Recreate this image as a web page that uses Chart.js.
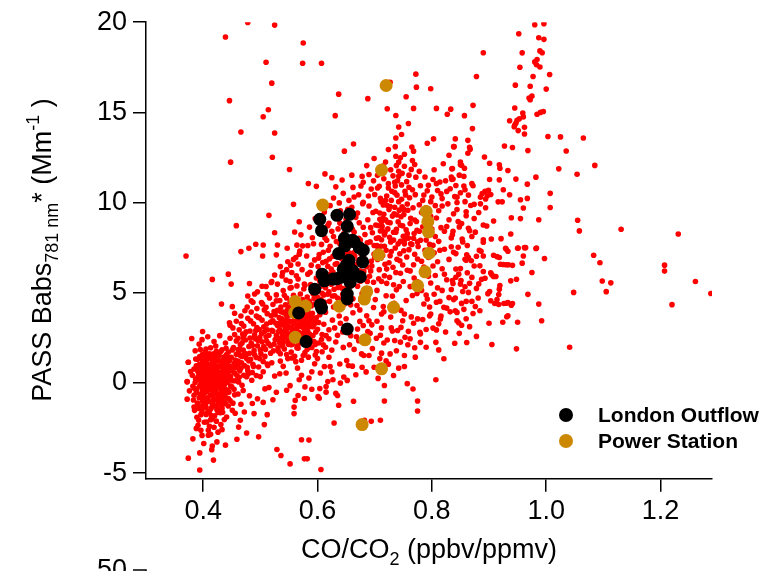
<!DOCTYPE html>
<html>
<head>
<meta charset="utf-8">
<script src="https://cdn.jsdelivr.net/npm/chart.js@4.4.1/dist/chart.umd.min.js"></script>
<style>
  body { margin: 0; background: #fff; }
  canvas { display: block; }
</style>
</head>
<body>
<canvas id="scatter" width="769" height="571"></canvas>
<script>
// --- values ---
const xTickValues = [0.4, 0.6, 0.8, 1.0, 1.2];
const yTickValues = [-5, 0, 5, 10, 15, 20];
const seriesNames = ["London Outflow", "Power Station"];

const londonOutflow = [
  [0.604,9.07],[0.634,9.29],[0.656,9.35],[0.607,8.44],[0.652,8.68],[0.647,8.02],[0.661,7.91],[0.664,7.83],
  [0.648,7.6],[0.673,7.5],[0.680,7.36],[0.637,7.17],[0.655,6.8],[0.679,6.71],[0.650,6.5],[0.645,6.3],
  [0.658,6.3],[0.662,6.2],[0.654,6.1],[0.661,6.03],[0.675,5.88],[0.608,6.03],[0.612,5.66],[0.627,5.76],
  [0.633,5.77],[0.640,5.85],[0.657,5.57],[0.595,5.2],[0.652,4.93],[0.652,4.66],[0.605,4.34],[0.607,4.15],
  [0.567,3.88],[0.652,2.99],[0.580,2.29]
];

const powerStation = [
  [0.720,16.49],[0.712,11.8],[0.609,9.86],[0.790,9.51],[0.793,8.94],[0.794,8.37],[0.707,7.1],[0.795,7.19],
  [0.788,6.16],[0.775,5.39],[0.686,5.06],[0.682,4.65],[0.733,4.19],[0.638,4.25],[0.561,4.52],[0.579,4.26],
  [0.560,3.9],[0.561,2.53],[0.683,2.39],[0.712,0.78],[0.678,-2.31]
];

// all measurements (red), split by area of the cloud
const allCore = [
  [0.381,0.42],[0.385,-0.31],[0.388,0.95],[0.390,-1.12],[0.392,0.18],[0.394,1.46],[0.395,-0.62],[0.397,0.71],[0.398,-1.58],[0.399,0.05],
  [0.400,1.12],[0.401,-0.88],[0.402,0.38],[0.403,-0.21],[0.404,1.73],[0.405,-1.35],[0.406,0.64],[0.407,-0.47],[0.408,0.92],[0.409,-0.05],
  [0.410,1.38],[0.410,-1.02],[0.411,0.27],[0.412,-0.71],[0.413,0.83],[0.414,-1.81],[0.414,0.12],[0.415,1.05],[0.416,-0.39],[0.417,0.55],
  [0.418,-1.24],[0.418,1.62],[0.419,-0.14],[0.420,0.76],[0.421,-0.93],[0.421,0.33],[0.422,2.05],[0.423,-0.56],[0.424,1.21],[0.424,-1.49],
  [0.425,0.09],[0.426,0.88],[0.427,-0.28],[0.428,1.51],[0.428,-0.81],[0.429,0.44],[0.430,-1.66],[0.431,1.02],[0.432,-0.12],[0.432,0.61],
  [0.433,1.84],[0.434,-0.67],[0.435,0.24],[0.436,1.33],[0.436,-1.07],[0.437,0.71],[0.438,-0.36],[0.439,2.21],[0.440,0.48],[0.441,-0.85],
  [0.442,1.15],[0.443,0.02],[0.444,1.71],[0.445,-0.51],[0.446,0.93],[0.447,2.48],[0.448,0.36],[0.449,1.42],[0.450,-0.22],[0.452,0.81],
  [0.453,1.96],[0.455,0.55],[0.456,1.27],[0.458,2.33],[0.460,0.98],[0.462,1.68],[0.463,0.31],[0.465,2.12],[0.467,1.12],[0.469,2.71],
  [0.372,0.06],[0.374,1.15],[0.376,-0.44],[0.378,0.63],[0.383,-0.95],[0.386,1.78],[0.389,-1.9],[0.391,-2.35],[0.393,2.15],[0.396,-2.62],
  [0.398,2.4],[0.402,-2.18],[0.405,-1.75],[0.408,2.56],[0.411,-2.41],[0.413,1.95],[0.416,-1.98],[0.419,2.3],[0.423,-2.12],[0.426,-1.63],
  [0.429,2.62],[0.433,-1.41],[0.437,-2.03],[0.440,1.92],[0.444,-1.28],[0.447,-0.98],[0.451,-1.52],[0.454,-0.35],[0.457,0.12],[0.461,-0.61],
  [0.464,0.67],[0.468,-0.13],[0.471,0.42],[0.474,1.55],[0.477,0.86],[0.480,2.02],[0.483,1.31],[0.486,0.58],[0.489,1.79],[0.492,2.44],
  [0.404,0.21],[0.407,0.58],[0.409,-0.33],[0.412,0.97],[0.415,-0.18],[0.417,-0.74],[0.420,0.15],[0.422,-0.35],[0.425,0.52],[0.427,-1.12],
  [0.430,0.36],[0.434,0.84],[0.437,-0.09],[0.411,1.62],[0.414,-1.4],[0.418,0.42],[0.421,1.41],[0.424,0.68],[0.403,-0.97],[0.406,1.29],
  [0.396,0.33],[0.399,-0.42],[0.401,0.87],[0.394,-0.17],[0.391,0.62],[0.387,0.21],[0.384,-0.68],[0.393,1.02],[0.397,-1.28],[0.400,-0.11],
  [0.391,0.35],[0.393,-0.82],[0.395,0.58],[0.396,-0.05],[0.398,1.27],[0.399,-1.03],[0.401,0.44],[0.402,-0.57],[0.403,1.48],[0.404,-1.19],
  [0.405,0.07],[0.406,-0.29],[0.407,1.06],[0.408,-0.83],[0.409,0.71],[0.410,0.23],[0.411,-1.57],[0.412,0.49],[0.413,-0.12],[0.414,1.31],
  [0.415,-0.64],[0.416,0.86],[0.417,0.18],[0.418,-0.97],[0.419,1.12],[0.420,-0.45],[0.421,0.62],[0.422,-1.28],[0.423,0.29],[0.424,-0.08],
  [0.425,1.58],[0.426,-0.77],[0.427,0.43],[0.428,-1.43],[0.429,0.95],[0.430,-0.21],[0.431,1.74],[0.432,-0.92],[0.433,0.15],[0.434,1.22],
  [0.435,-0.48],[0.436,0.57],[0.437,1.45],[0.438,0.04],[0.439,-1.15],[0.440,0.83],[0.441,0.31],[0.442,-0.39],[0.443,1.36],[0.444,0.62],
  [0.386,0.02],[0.388,-0.53],[0.389,0.74],[0.390,1.31],[0.392,-1.41],[0.394,0.91],[0.396,-1.76],[0.397,0.26],[0.399,1.59],[0.400,-0.72],
  [0.402,0.97],[0.404,-0.41],[0.405,1.88],[0.407,0.32],[0.408,-1.62],[0.410,0.78],[0.412,-0.27],[0.413,-2.04],[0.415,0.39],[0.417,1.37],
  [0.419,-0.58],[0.420,-1.82],[0.422,0.91],[0.423,1.76],[0.425,-0.96],[0.427,0.07],[0.429,-0.62],[0.431,0.54],[0.433,-1.21],[0.435,1.02],
  [0.437,-0.71],[0.439,0.38],[0.441,1.58],[0.443,-0.44],[0.445,0.16],[0.446,1.24],[0.448,-0.17],[0.449,0.67],[0.451,1.83],[0.452,0.12],
  [0.454,1.08],[0.455,-0.66],[0.457,0.84],[0.458,1.59],[0.459,0.41],[0.461,1.21],[0.462,0.05],[0.464,1.87],[0.466,0.82],[0.468,1.47],
  [0.382,-0.19],[0.384,0.77],[0.385,-1.52],[0.387,1.33],[0.389,-0.34],[0.392,-2.06],[0.395,1.85],[0.398,-0.26],[0.401,-1.33],[0.403,0.66],
  [0.406,-1.06],[0.409,1.54],[0.411,0.04],[0.414,0.58],[0.416,-1.22],[0.418,-0.52],[0.421,-0.18],[0.424,0.34],[0.426,1.29],[0.428,0.17],
  [0.430,0.91],[0.432,-0.42],[0.434,-1.63],[0.436,-0.23],[0.438,0.96],[0.440,-0.57],[0.442,0.55],[0.444,-0.86],[0.447,0.28],[0.450,0.79],
  [0.470,1.82],[0.472,0.96],[0.474,2.38],[0.476,1.35],[0.479,0.51],[0.481,1.64],[0.484,2.21],[0.487,1.03],[0.490,2.67],[0.493,1.41],
  [0.495,2.06],[0.497,0.88],[0.499,2.51],[0.501,1.62],[0.503,2.28],[0.505,1.19],[0.507,2.84],[0.509,1.86],[0.511,2.32],[0.513,0.97],
  [0.465,1.52],[0.470,2.51],[0.476,0.34],[0.482,2.88],[0.488,0.91],[0.494,3.07],[0.499,1.35],[0.506,2.02],[0.512,2.95],[0.518,2.06],
  [0.409,-2.62],[0.413,-2.85],[0.419,-2.46],[0.426,-2.73],[0.431,-2.31],[0.398,-2.91],[0.388,-2.52],[0.441,-1.89],[0.452,-1.12],[0.456,-1.68]
];

const allBand = [
  [0.452,3.05],[0.455,2.68],[0.458,3.42],[0.461,1.85],[0.463,2.95],[0.466,3.71],[0.468,2.22],[0.471,3.15],[0.473,1.64],[0.475,2.83],
  [0.478,3.58],[0.480,1.22],[0.482,2.49],[0.484,3.93],[0.486,2.07],[0.488,3.28],[0.490,1.56],[0.492,2.91],[0.494,4.12],[0.496,2.35],
  [0.498,3.62],[0.500,1.83],[0.502,2.73],[0.504,4.38],[0.506,3.11],[0.508,1.47],[0.510,2.56],[0.512,3.84],[0.514,2.18],[0.516,4.71],
  [0.518,3.37],[0.520,1.12],[0.522,2.87],[0.524,3.96],[0.526,2.41],[0.528,4.55],[0.530,3.18],[0.532,1.74],[0.534,2.95],[0.536,4.21],
  [0.538,3.55],[0.540,2.26],[0.542,4.86],[0.544,3.02],[0.546,1.58],[0.548,2.69],[0.550,3.82],[0.552,4.47],[0.554,2.12],[0.556,3.36],
  [0.558,4.08],[0.560,2.83],[0.562,3.64],[0.564,1.95],[0.566,4.31],[0.568,3.12],[0.570,2.47],[0.572,3.91],[0.574,4.62],[0.576,2.76],
  [0.578,3.45],[0.580,4.18],[0.582,1.87],[0.584,3.07],[0.586,4.52],[0.588,2.58],[0.590,3.71],[0.592,4.95],[0.594,2.29],[0.596,3.36],
  [0.531,2.41],[0.533,3.62],[0.535,2.88],[0.537,3.21],[0.539,2.05],[0.541,3.88],[0.543,2.57],[0.545,3.44],[0.547,4.02],[0.549,2.33],
  [0.551,3.06],[0.553,2.71],[0.555,3.78],[0.557,2.46],[0.559,3.29],[0.561,4.11],[0.563,2.92],[0.565,3.53],[0.567,2.18],[0.569,3.87],
  [0.571,3.36],[0.573,2.61],[0.575,3.99],[0.577,3.14],[0.579,2.39],[0.581,3.66],[0.583,2.84],[0.585,3.41],[0.587,2.02],[0.589,4.27],
  [0.556,2.15],[0.562,2.68],[0.568,3.58],[0.574,3.27],[0.548,3.18],[0.542,2.79],[0.536,3.94],[0.580,2.95],[0.586,3.82],[0.592,3.12],
  [0.470,-0.42],[0.485,0.15],[0.495,-0.88],[0.505,0.62],[0.515,-0.25],[0.525,0.38],[0.535,1.21],[0.545,0.55],[0.555,1.38],[0.565,0.82],
  [0.575,1.52],[0.585,0.27],[0.595,1.06],[0.598,1.74],[0.610,2.12],[0.620,1.42],[0.478,0.68],[0.500,0.35],[0.512,1.05],[0.528,-0.52],
  [0.540,0.92],[0.552,-0.15],[0.562,1.18],[0.590,-0.35],[0.605,0.55],[0.615,-0.2],[0.625,0.62],[0.600,1.35],[0.572,0.42],[0.518,1.65],
  [0.480,7.47],[0.492,7.69],[0.505,7.65],[0.530,7.65],[0.504,7.04],[0.528,7.1],[0.547,7.47],[0.564,7.64],[0.574,7.6],[0.593,7.72],
  [0.553,6.53],[0.566,6.59],[0.581,7.04],[0.589,6.53],[0.525,5.98],[0.539,6.12],[0.545,5.7],[0.510,5.35],[0.519,5.57],[0.484,4.56],
  [0.490,4.93],[0.502,4.46],[0.473,4.0],[0.496,3.64],[0.510,4.19],[0.554,5.29],[0.566,5.76],[0.577,5.48],[0.583,6.03],[0.568,7.14],
  [0.520,2.92],[0.522,3.45],[0.524,2.15],[0.526,3.78],[0.528,2.63],[0.530,4.02],[0.532,3.28],[0.534,2.21],[0.536,3.52],[0.538,2.74],
  [0.540,3.93],[0.541,2.48],[0.543,3.17],[0.544,4.33],[0.546,2.89],[0.547,3.66],[0.549,2.14],[0.550,4.18],[0.552,3.41],[0.553,2.56],
  [0.555,3.09],[0.556,4.42],[0.558,2.35],[0.559,3.74],[0.561,2.98],[0.562,4.05],[0.564,3.22],[0.565,2.51],[0.567,3.91],[0.568,2.79],
  [0.570,3.47],[0.571,4.28],[0.573,2.27],[0.574,3.69],[0.576,3.02],[0.577,4.15],[0.579,2.66],[0.580,3.38],[0.582,2.42],[0.583,3.97],
  [0.585,3.18],[0.586,2.71],[0.588,3.55],[0.589,2.31],[0.591,3.86],[0.592,2.63],[0.594,3.24],[0.595,4.37],[0.597,2.82],[0.598,3.61],
  [0.532,2.85],[0.537,2.52],[0.541,3.34],[0.546,3.77],[0.551,2.42],[0.556,2.82],[0.560,3.51],[0.565,2.04],[0.569,3.14],[0.574,2.58],
  [0.578,3.83],[0.583,3.26],[0.587,2.57],[0.591,3.44],[0.596,2.13],[0.600,2.98],[0.604,3.78],[0.607,2.41],[0.611,3.25],[0.615,2.62],
  [0.535,1.62],[0.542,1.88],[0.548,1.35],[0.554,1.71],[0.560,1.48],[0.566,1.92],[0.572,1.26],[0.578,1.68],[0.584,1.43],[0.590,1.97],
  [0.596,1.55],[0.602,2.21],[0.608,1.73],[0.614,1.98],[0.620,2.45],[0.625,1.82],[0.630,3.05],[0.635,2.64],[0.640,3.31],[0.645,1.97],
  [0.522,4.35],[0.528,4.88],[0.534,4.57],[0.540,5.12],[0.546,4.71],[0.552,5.26],[0.558,4.86],[0.564,5.38],[0.570,4.93],[0.576,5.21],
  [0.582,4.76],[0.588,5.45],[0.594,4.68],[0.600,5.14],[0.606,4.63],[0.612,5.36],[0.618,4.92],[0.624,5.47],[0.630,4.83],[0.636,5.29],
  [0.455,3.86],[0.461,2.48],[0.467,3.29],[0.472,2.67],[0.477,4.21],[0.483,3.44],[0.489,2.52],[0.493,3.71],[0.498,2.96],[0.503,3.48],
  [0.507,4.05],[0.511,3.27],[0.515,2.64],[0.519,3.72],[0.523,1.78],[0.527,3.31],[0.531,1.95],[0.478,4.82],[0.487,4.47],[0.495,5.05],
  [0.503,5.36],[0.512,4.91],[0.520,5.62],[0.530,5.48],[0.538,5.93],[0.546,6.28],[0.555,6.12],[0.562,6.95],[0.548,6.72],[0.535,6.45]
];

const allMid = [
  [0.598,5.82],[0.601,6.45],[0.603,7.12],[0.605,5.36],[0.607,7.68],[0.609,6.21],[0.611,4.88],[0.613,8.04],[0.615,6.74],[0.617,5.51],
  [0.619,7.36],[0.621,4.52],[0.623,6.05],[0.625,8.41],[0.627,7.02],[0.629,5.19],[0.631,6.58],[0.633,7.84],[0.635,4.71],[0.637,5.93],
  [0.639,8.86],[0.641,6.92],[0.643,5.25],[0.645,7.55],[0.647,4.38],[0.649,8.15],[0.651,5.72],[0.653,9.62],[0.655,7.21],[0.657,4.96],
  [0.659,6.43],[0.661,8.52],[0.663,5.48],[0.665,7.05],[0.667,9.18],[0.669,4.29],[0.671,6.81],[0.673,8.88],[0.675,5.64],[0.677,7.42],
  [0.679,9.94],[0.681,6.17],[0.683,8.23],[0.685,4.85],[0.687,7.77],[0.689,10.36],[0.691,5.91],[0.693,8.61],[0.695,6.48],[0.697,9.45],
  [0.699,7.14],[0.701,4.62],[0.703,8.02],[0.705,10.81],[0.707,5.78],[0.709,9.07],[0.711,6.93],[0.713,8.47],[0.715,4.24],[0.717,7.58],
  [0.719,10.12],[0.721,5.52],[0.723,8.91],[0.725,6.66],[0.727,9.78],[0.729,7.29],[0.731,4.81],[0.733,8.35],[0.735,10.55],[0.737,6.12],
  [0.739,9.31],[0.741,7.71],[0.743,5.35],[0.745,8.74],[0.747,10.98],[0.749,6.54],[0.751,9.62],[0.753,7.95],[0.755,4.57],[0.757,8.28],
  [0.702,9.52],[0.706,8.73],[0.710,10.24],[0.714,9.12],[0.718,8.35],[0.722,9.84],[0.726,8.07],[0.730,10.63],[0.734,9.38],[0.738,8.52],
  [0.742,10.05],[0.746,9.21],[0.750,8.13],[0.754,10.42],[0.758,9.57],[0.762,8.84],[0.766,10.71],[0.770,9.03],[0.774,8.46],[0.778,9.88],
  [0.704,7.62],[0.712,7.94],[0.720,7.35],[0.728,7.82],[0.736,7.48],[0.744,7.16],[0.752,7.71],[0.760,7.39],[0.768,8.02],[0.776,7.56],
  [0.708,10.9],[0.716,11.32],[0.724,11.05],[0.732,11.48],[0.740,11.21],[0.748,11.62],[0.756,11.16],[0.764,11.84],[0.772,11.41],[0.780,10.93],
  [0.552,5.62],[0.558,6.85],[0.563,5.94],[0.569,7.31],[0.573,6.28],[0.578,5.41],[0.583,7.62],[0.587,6.13],[0.591,8.05],[0.595,6.82],
  [0.571,8.21],[0.586,8.64],[0.596,9.12],[0.612,9.47],[0.622,9.83],[0.618,8.72],[0.628,10.25],[0.638,9.98],[0.645,10.51],[0.655,10.12],
  [0.662,10.84],[0.672,10.43],[0.680,11.12],[0.690,11.56],[0.698,11.21],[0.660,11.52],[0.643,11.25],[0.632,10.87],[0.625,11.38],[0.686,12.05],
  [0.602,3.35],[0.608,2.68],[0.614,3.92],[0.620,2.95],[0.626,3.48],[0.632,2.27],[0.638,3.71],[0.644,2.83],[0.650,3.56],[0.656,2.12],
  [0.662,3.89],[0.668,2.56],[0.674,4.05],[0.680,3.18],[0.686,3.72],[0.692,2.75],[0.698,4.18],[0.704,3.42],[0.710,2.64],[0.716,3.95],
  [0.722,2.38],[0.728,3.65],[0.734,4.41],[0.740,2.91],[0.746,4.02],[0.612,4.48],[0.628,4.21],[0.642,4.65],[0.658,4.33],[0.676,4.58],
  [0.762,6.21],[0.766,4.85],[0.770,7.13],[0.774,5.62],[0.778,8.41],[0.782,6.75],[0.786,4.38],[0.790,7.92],[0.794,5.91],[0.798,9.24],
  [0.802,6.48],[0.806,8.12],[0.810,5.27],[0.814,7.36],[0.818,9.81],[0.822,6.02],[0.826,8.67],[0.830,4.73],[0.834,7.55],[0.838,9.38],
  [0.842,6.31],[0.846,8.95],[0.850,5.48],[0.854,7.82],[0.858,10.05],[0.862,6.11],[0.866,8.44],[0.870,5.85],[0.874,9.12],[0.878,7.02],
  [0.784,10.12],[0.792,10.65],[0.800,10.31],[0.808,11.05],[0.816,10.48],[0.824,11.21],[0.832,10.77],[0.840,10.33],[0.848,11.52],[0.856,10.92],
  [0.788,11.42],[0.804,11.82],[0.820,12.15],[0.812,9.55],[0.828,9.93],[0.796,3.72],[0.812,3.28],[0.826,4.15],[0.844,3.91],[0.860,3.56],
  [0.768,3.31],[0.780,2.72],[0.792,4.65],[0.804,4.92],[0.818,5.13],[0.836,5.67],[0.852,4.41],[0.864,5.02],[0.876,4.24],[0.882,5.49],
  [0.600,4.75],[0.602,6.92],[0.604,5.64],[0.606,8.31],[0.608,4.97],[0.610,7.24],[0.612,6.13],[0.614,5.28],[0.616,7.91],[0.618,6.47],
  [0.620,5.05],[0.622,7.58],[0.624,6.31],[0.626,4.82],[0.628,8.12],[0.630,5.93],[0.632,7.05],[0.634,6.62],[0.636,8.54],[0.638,5.42],
  [0.640,7.33],[0.642,6.07],[0.644,4.91],[0.646,8.28],[0.648,5.85],[0.650,7.12],[0.652,6.39],[0.654,8.77],[0.656,5.31],[0.658,7.64],
  [0.660,6.02],[0.662,4.67],[0.664,8.36],[0.666,6.55],[0.668,7.48],[0.670,5.36],[0.672,8.02],[0.674,6.22],[0.676,7.15],[0.678,4.95],
  [0.680,8.63],[0.682,5.76],[0.684,7.31],[0.686,6.44],[0.688,9.05],[0.690,5.22],[0.692,7.82],[0.694,6.74],[0.696,8.33],[0.698,5.58],
  [0.700,6.95],[0.702,8.76],[0.704,5.13],[0.706,7.41],[0.708,6.28],[0.710,8.42],[0.712,5.62],[0.714,7.07],[0.716,9.35],[0.718,6.58],
  [0.603,5.98],[0.609,6.67],[0.615,5.71],[0.621,6.88],[0.627,6.15],[0.633,5.58],[0.639,7.72],[0.645,6.78],[0.651,5.26],[0.657,6.95],
  [0.663,7.22],[0.669,6.12],[0.675,7.92],[0.681,6.95],[0.687,5.63],[0.693,6.21],[0.699,7.62],[0.705,6.84],[0.711,7.58],[0.717,5.94],
  [0.707,8.05],[0.709,9.42],[0.711,10.05],[0.713,8.68],[0.715,9.87],[0.717,8.21],[0.719,9.04],[0.721,10.36],[0.723,8.54],[0.725,9.61],
  [0.727,8.88],[0.729,10.12],[0.731,9.25],[0.733,7.92],[0.735,9.74],[0.737,8.35],[0.739,10.41],[0.741,8.94],[0.743,9.58],[0.745,7.85],
  [0.747,10.18],[0.749,8.71],[0.751,9.34],[0.753,10.62],[0.755,8.49],[0.757,9.92],[0.759,8.03],[0.761,10.27],[0.763,9.13],[0.765,7.68],
  [0.767,9.71],[0.769,8.28],[0.771,10.44],[0.773,8.95],[0.775,7.82],[0.712,8.93],[0.724,10.81],[0.736,10.92],[0.748,9.76],[0.760,10.85],
  [0.620,8.85],[0.630,9.31],[0.640,9.55],[0.650,9.08],[0.660,9.74],[0.670,9.42],[0.680,10.02],[0.690,9.81],[0.700,10.45],[0.664,10.31],
  [0.676,10.92],[0.694,10.75],[0.705,11.51],[0.715,12.02],[0.728,11.82],[0.742,12.24],[0.752,12.01],[0.760,11.52],[0.770,12.11],[0.778,11.73],
  [0.720,4.83],[0.726,5.85],[0.732,6.41],[0.738,5.16],[0.744,6.77],[0.750,5.62],[0.756,6.98],[0.762,5.34],[0.768,6.55],[0.774,4.96],
  [0.721,6.31],[0.727,7.05],[0.733,5.44],[0.739,6.86],[0.745,6.08],[0.751,7.33],[0.757,6.25],[0.763,7.71],[0.769,5.82],[0.775,6.87],
  [0.780,7.91],[0.784,8.66],[0.788,7.35],[0.792,8.97],[0.796,7.68],[0.800,8.53],[0.804,7.22],[0.808,9.14],[0.812,7.85],[0.816,8.61],
  [0.782,9.45],[0.786,10.42],[0.790,9.71],[0.794,10.96],[0.798,10.05],[0.802,11.28],[0.806,9.83],[0.810,10.67],[0.814,11.14],[0.818,10.22]
];

const allUpper = [
  [0.439,19.18],[0.478,19.99],[0.525,19.84],[0.575,18.85],[0.510,17.78],[0.574,17.72],[0.607,17.72],[0.520,16.62],[0.446,15.65],[0.514,15.15],
  [0.505,14.76],[0.466,13.91],[0.525,13.86],[0.521,12.51],[0.448,12.24],[0.551,11.83],[0.631,14.82],[0.637,16.01],[0.688,15.76],[0.727,16.67],
  [0.772,17.12],[0.773,16.4],[0.798,16.31],[0.755,15.87],[0.722,15.2],[0.768,15.22],[0.808,15.22],[0.833,15.18],[0.827,14.9],[0.737,14.83],
  [0.759,14.38],[0.742,14.19],[0.747,13.77],[0.737,13.58],[0.663,13.25],[0.647,12.85],[0.699,12.44],[0.724,12.94],[0.736,13.1],[0.765,13.08],
  [0.768,12.85],[0.737,12.57],[0.745,12.48],[0.752,12.68],[0.766,12.33],[0.792,13.29],[0.803,13.53],[0.841,13.53],[0.838,13.1],[0.830,12.62],
  [0.850,12.09],[0.835,11.87],[0.835,11.28],[0.719,12.25],[0.738,12.05],[0.742,11.74],[0.742,11.46],[0.735,11.13],[0.678,11.45],[0.613,11.59],
  [0.584,11.06],[0.598,10.9],[0.558,9.9],[0.515,9.29],[0.458,8.72],[0.568,8.94],[0.525,8.33],[0.560,8.37],
  [0.980,19.86],[0.996,19.92],[0.952,19.36],[0.987,19.14],[0.996,19.05],[0.890,18.31],[0.958,18.3],[0.989,18.41],[0.993,18.31],[0.984,17.93],
  [0.980,17.8],[0.983,17.64],[0.989,17.52],[0.954,17.5],[1.006,17.1],[0.878,16.99],[0.977,16.99],[0.946,16.51],[0.972,16.45],[1.000,16.29],
  [0.970,15.8],[0.972,15.7],[0.975,15.9],[0.872,15.39],[0.945,15.24],[0.959,14.96],[0.984,14.9],[0.990,15.0],[0.995,15.05],[0.857,14.82],
  [0.936,14.54],[0.949,14.56],[0.953,14.65],[0.960,14.75],[0.945,14.3],[0.947,14.4],[0.944,14.2],[0.951,13.99],[0.962,14.17],[0.962,13.8],
  [0.871,14.1],[1.003,13.66],[1.025,13.64],[1.065,13.58],[0.863,13.45],[0.866,13.07],[0.867,12.95],[0.927,13.14],[0.941,13.05],[0.968,12.88],
  [1.035,12.86],[0.839,13.1],[0.863,12.73],[0.892,12.53],[0.901,12.18],[0.918,12.09],[0.919,11.9],[1.085,12.06],[0.852,12.07],[0.857,11.9],
  [0.850,12.25],[0.933,11.78],[1.022,11.87],[1.054,11.57],[0.836,11.89],[0.837,11.3],[0.856,11.45],[0.901,11.28],[0.918,11.26],[0.947,11.3],
  [0.982,11.41],[0.967,11.02],[0.872,10.93],[0.858,10.71]
];

const allRight = [
  [0.888,10.5],[0.893,10.62],[0.897,10.38],[0.885,10.3],[0.899,10.68],[0.903,10.45],[0.894,10.2],[0.925,10.71],[0.936,10.43],[1.007,10.51],
  [0.844,10.3],[0.844,10.0],[0.955,10.16],[0.967,10.23],[0.916,10.04],[0.923,10.04],[0.874,9.9],[0.885,9.93],[0.894,9.71],[0.960,9.7],
  [1.007,9.73],[0.860,9.49],[0.939,9.16],[0.955,9.11],[0.987,9.05],[1.055,9.02],[0.890,8.76],[0.896,8.7],[0.908,8.98],[1.058,8.43],
  [1.131,8.52],[1.231,8.26],[0.837,8.41],[0.848,8.65],[0.864,8.57],[0.834,8.04],[0.853,7.98],[0.890,7.94],[0.890,7.8],[0.904,7.98],
  [0.921,8.0],[0.938,8.26],[0.929,7.47],[0.950,7.47],[0.962,7.5],[0.982,7.45],[0.883,7.36],
  [0.842,7.17],[0.861,7.1],[0.860,6.8],[0.864,6.95],[0.869,6.77],[0.890,7.04],[0.886,7.3],[0.908,7.08],[0.914,7.0],[0.918,6.95],
  [0.930,7.41],[0.933,7.3],[0.951,7.48],[0.964,7.5],[0.983,7.48],[0.960,7.04],[0.997,6.9],[0.958,6.64],[0.920,6.58],[0.925,6.57],
  [0.930,6.55],[0.934,6.55],[0.941,6.52],[0.884,6.49],[0.890,6.18],[0.903,6.1],[0.905,6.0],[0.912,5.9],[0.908,5.9],[0.847,6.03],
  [0.851,5.68],[0.887,5.75],[0.893,5.8],[0.919,5.4],[0.918,5.2],[0.917,4.9],[0.938,5.66],[0.948,5.75],[0.975,6.12],[0.837,5.51],
  [0.858,5.33],[0.901,5.07],[0.898,4.95],[0.968,4.91],[0.841,4.71],[0.860,4.52],[0.870,4.52],[0.881,4.71],[0.903,4.56],[0.914,4.62],
  [0.917,4.35],[0.910,4.4],[0.926,4.4],[0.930,4.42],[0.933,4.45],[0.939,4.31],[0.941,4.4],[0.987,4.37],[0.841,4.0],[0.884,4.0],
  [0.931,3.67],[0.933,3.72],[0.924,3.36],[0.950,3.36],[0.992,3.45],[0.900,3.31],[0.847,3.34],[0.852,3.2],[0.840,2.2],[0.861,2.24],
  [0.905,2.13],[0.948,1.89],[1.041,1.98],[1.048,5.02],[1.083,7.08],[1.094,6.66],[1.098,5.65],[1.113,5.55],[1.105,5.06],[1.207,6.53],
  [1.207,6.2],[1.261,5.62],[1.288,4.96],[1.220,4.34],
  [0.782,5.13],[0.786,6.42],[0.790,4.87],[0.794,6.95],[0.798,5.54],[0.802,7.63],[0.806,5.96],[0.810,6.72],[0.814,4.52],[0.818,6.33],
  [0.822,7.41],[0.826,5.72],[0.830,6.85],[0.834,5.18],[0.838,7.24],[0.842,5.86],[0.846,7.52],[0.850,6.34],[0.854,5.07],[0.858,6.86],
  [0.862,7.62],[0.866,5.52],[0.870,8.12],[0.874,6.48],[0.878,5.24],[0.822,8.41],[0.830,9.05],[0.836,8.22],[0.844,9.61],[0.852,8.84],
  [0.860,9.27],[0.868,9.84],[0.876,8.36],[0.882,9.45],[0.826,10.62],[0.834,11.42],[0.842,10.95],[0.850,10.54],[0.864,10.41],[0.870,11.05],
  [0.784,3.52],[0.790,2.96],[0.796,4.21],[0.802,3.04],[0.808,4.47],[0.816,3.71],[0.824,2.82],[0.832,3.94],[0.838,4.62],[0.848,2.75],
  [0.856,4.08],[0.866,3.12],[0.872,3.85],[0.878,2.58]
];

const allLow = [
  [0.370,7.04],[0.416,5.74],[0.444,6.03],[0.449,5.48],[0.466,7.28],[0.481,5.51],[0.432,4.38],[0.451,4.23],[0.446,3.34],[0.447,3.2],
  [0.399,2.85],[0.380,2.46],[0.374,1.15],[0.372,0.07],[0.372,-0.9],[0.384,-1.34],[0.406,-2.17],[0.382,-3.1],[0.374,-4.17],[0.394,-4.83],
  [0.401,-3.36],[0.409,-2.9],[0.416,-3.5],[0.415,-3.7],[0.424,-3.27],[0.439,-3.45],[0.418,-4.28],[0.394,-3.88],[0.433,-2.59],[0.465,-2.07],
  [0.497,-2.99],[0.489,-1.7],[0.512,-1.76],[0.507,-2.31],[0.529,-3.69],[0.536,-4.02],[0.552,-4.49],[0.572,-3.15],[0.585,-3.17],[0.577,-4.21],
  [0.582,-4.21],[0.606,-4.8],[0.629,-2.22],[0.561,-0.97],[0.566,-0.7],[0.559,-1.34],[0.559,-1.7],[0.577,-0.86],[0.601,-0.76],[0.603,-0.85],
  [0.615,-0.51],[0.632,-0.58],[0.635,-0.7],[0.637,-1.24],[0.663,-1.02],[0.640,-0.01],[0.627,0.18],[0.652,0.14],[0.682,-2.07],[0.694,-2.13],
  [0.710,-2.07],[0.717,-1.0],[0.717,-0.14],[0.733,0.41],[0.767,-0.34],[0.775,-1.0],[0.775,-1.56],[0.757,-0.04],[0.807,0.18],[0.661,0.93],
  [0.678,0.87],[0.612,0.91],[0.622,0.91],[0.654,0.97],[0.699,0.87],[0.690,1.52],[0.677,1.61],[0.712,1.65],[0.727,1.61],[0.752,0.91],
  [0.752,1.52],[0.771,1.43],[0.735,2.35],[0.753,2.53],[0.780,2.25],[0.790,1.98],[0.812,1.83],[0.821,1.34],[0.807,2.25],[0.712,3.05],
  [0.729,3.05],[0.759,2.86],[0.779,2.81],[0.808,2.94],[0.815,3.55],[0.844,3.45],[0.821,4.19],[0.798,3.82],[0.775,3.55],[0.749,3.45],
  [0.746,3.08],[0.712,3.82],[0.690,3.45],[0.670,2.99],
  [0.664,1.86],[0.672,2.34],[0.681,1.52],[0.688,2.85],[0.696,1.91],[0.703,2.48],[0.709,1.35],[0.716,2.21],[0.724,1.04],[0.731,2.88],
  [0.738,1.78],[0.745,2.26],[0.752,3.82],[0.758,2.12],[0.764,3.66],[0.770,1.95],[0.651,1.24],[0.658,2.62],[0.667,0.45],[0.674,3.41],
  [0.685,0.61],[0.695,3.22],[0.706,0.25],[0.720,1.22],[0.742,0.82],[0.762,2.45],[0.639,1.05],[0.646,0.33],[0.618,0.08],[0.604,-0.31],
  [0.590,0.62],[0.578,-0.22],[0.568,0.18],[0.546,-0.41],[0.534,0.51],[0.522,-0.93],[0.508,-0.33],[0.493,0.41],[0.481,-0.71],[0.466,-1.18],
  [0.472,-1.61],[0.486,-1.14],[0.462,-2.45],[0.459,-3.12],[0.476,-2.78],[0.505,-1.08]
];

const FONT = '"Liberation Sans", Arial, sans-serif';
const toXY = p => ({ x: p[0], y: p[1] });
const allPoints = [].concat(allCore, allBand, allMid, allUpper, allRight, allLow).map(toXY);

// axis titles with sub/superscripts, drawn as runs of text
const xTitleRuns = [
  { text: "CO/CO", size: 27, dy: 0 },
  { text: "2", size: 18, dy: 7 },
  { text: " (ppbv/ppmv)", size: 27, dy: 0 }
];
const yTitleRuns = [
  { text: "PASS Babs", size: 27, dy: 0 },
  { text: "781 nm", size: 18, dy: 7 },
  { text: "* (Mm", size: 27, dy: 0 },
  { text: "-1", size: 18, dy: -12 },
  { text: " )", size: 27, dy: 0 }
];

function drawRuns(ctx, runs, cx, baseY) {
  let total = 0;
  runs.forEach(r => { ctx.font = r.size + "px " + FONT; total += ctx.measureText(r.text).width; });
  let x = cx - total / 2;
  ctx.textAlign = "left";
  ctx.textBaseline = "alphabetic";
  runs.forEach(r => {
    ctx.font = r.size + "px " + FONT;
    ctx.fillText(r.text, x, baseY + r.dy);
    x += ctx.measureText(r.text).width;
  });
}

const extrasPlugin = {
  id: "extras",
  afterDraw(chart) {
    const ctx = chart.ctx;
    ctx.save();
    ctx.fillStyle = "#000";
    drawRuns(ctx, xTitleRuns, 429, 558);

    ctx.save();
    ctx.translate(51, 250);
    ctx.rotate(-Math.PI / 2);
    drawRuns(ctx, yTitleRuns, 0, 0);
    ctx.restore();

    // legend
    const legendColors = ["#000000", "#cc8800"];
    seriesNames.forEach((name, i) => {
      const y = 415 + i * 26;
      ctx.fillStyle = legendColors[i];
      ctx.beginPath();
      ctx.arc(566, y, 7, 0, Math.PI * 2);
      ctx.fill();
      ctx.fillStyle = "#000";
      ctx.font = "bold 21px " + FONT;
      ctx.textBaseline = "middle";
      ctx.fillText(name, 598, y + 1);
    });

    // top of the next panel, cut off by the frame
    ctx.font = "27px " + FONT;
    ctx.textAlign = "right";
    ctx.textBaseline = "alphabetic";
    ctx.fillText("50", 127, 578);
    ctx.strokeStyle = "#000";
    ctx.lineWidth = 1.5;
    ctx.beginPath();
    ctx.moveTo(133, 570);
    ctx.lineTo(146, 570);
    ctx.lineTo(146, 571);
    ctx.stroke();
    ctx.restore();
  }
};

const axisGrid = { drawOnChartArea: false, drawTicks: true, tickLength: 13, color: "#000", lineWidth: 1.5 };
const axisBorder = { display: true, color: "#000", width: 1.5 };

new Chart(document.getElementById("scatter"), {
  type: "scatter",
  data: {
    datasets: [
      {
        label: seriesNames[0],
        data: londonOutflow.map(toXY),
        backgroundColor: "#000000",
        borderWidth: 0,
        pointRadius: 6.5
      },
      {
        label: seriesNames[1],
        data: powerStation.map(toXY),
        backgroundColor: "#cc8800",
        borderWidth: 0,
        pointRadius: 6.5
      },
      {
        label: "All",
        data: allPoints,
        backgroundColor: "#ff0000",
        borderWidth: 0,
        pointRadius: 2.8
      }
    ]
  },
  options: {
    responsive: false,
    animation: false,
    devicePixelRatio: 1,
    layout: { padding: { left: 0, top: 20.5, right: 57, bottom: 0 } },
    plugins: { legend: { display: false }, tooltip: { enabled: false } },
    scales: {
      x: {
        type: "linear",
        min: 0.3,
        max: 1.29,
        afterBuildTicks: s => { s.ticks = xTickValues.map(v => ({ value: v })); },
        afterFit: s => { s.height = 92.3; },
        ticks: {
          callback: v => Number(v).toFixed(1),
          font: { family: FONT, size: 27 },
          color: "#000",
          padding: 4,
          maxRotation: 0,
          autoSkip: false
        },
        grid: axisGrid,
        border: axisBorder
      },
      y: {
        type: "linear",
        min: -5.31,
        max: 20,
        afterBuildTicks: s => { s.ticks = yTickValues.map(v => ({ value: v })); },
        afterFit: s => { s.width = 146; },
        ticks: {
          callback: v => String(v),
          font: { family: FONT, size: 27 },
          color: "#000",
          padding: 6,
          autoSkip: false
        },
        grid: axisGrid,
        border: axisBorder
      }
    }
  },
  plugins: [extrasPlugin]
});
</script>
</body>
</html>
